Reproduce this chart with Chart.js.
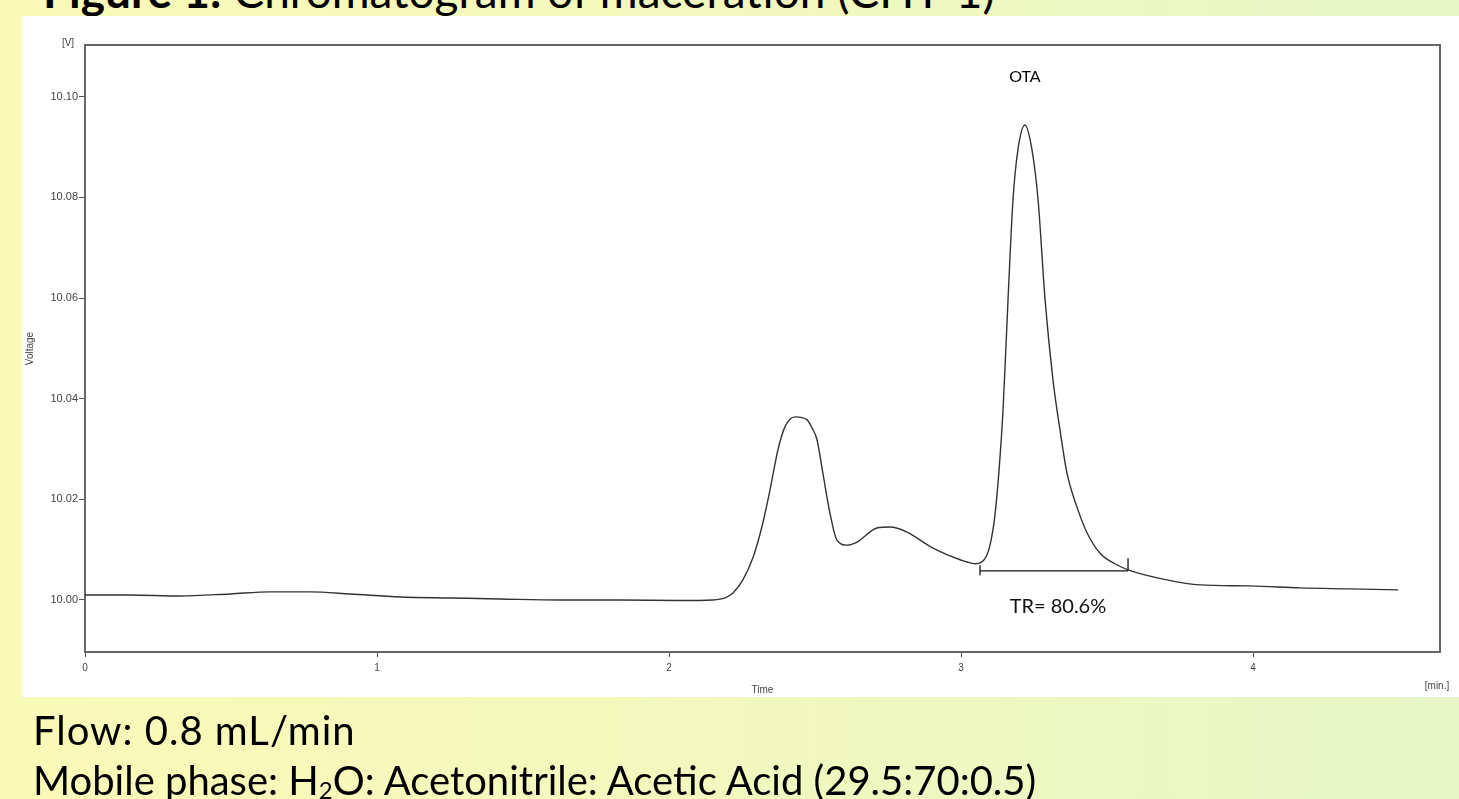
<!DOCTYPE html>
<html>
<head>
<meta charset="utf-8">
<script src="https://cdn.jsdelivr.net/npm/chart.js@4/dist/chart.umd.min.js"></script>
<style>
  html, body { margin:0; padding:0; }
  body { width:1459px; height:799px; overflow:hidden; position:relative;
         background: linear-gradient(90deg, #fafab8 0%, #f4f9bd 40%, #e7f6c7 100%); }
  #panel { position:absolute; left:22px; top:16px; width:1437px; height:681px; background:#ffffff; }
  #chart { position:absolute; left:0; top:0; }
  .big { position:absolute; font-family: Lato, "Open Sans", sans-serif; font-size:40px; color:#000; white-space:nowrap; line-height:1; }
  #title { left:43px; top:-32px; font-size:46px; }
  #flow { left:33px; top:710px; letter-spacing:1px; }
  #phase { left:33px; top:760px; }
  sub { font-size:0.6em; vertical-align:-0.15em; line-height:0; }
</style>
</head>
<body>
<div id="title" class="big"><b>Figure 1:</b> Chromatogram of maceration (CHT-1)</div>
<div id="panel"></div>
<canvas id="chart" width="1459" height="799"></canvas>
<div id="flow" class="big">Flow: 0.8 mL/min</div>
<div id="phase" class="big">Mobile phase: H<sub>2</sub>O: Acetonitrile: Acetic Acid (29.5:70:0.5)</div>
<script>
// ---- data ----
const times = [0.000,0.154,0.325,0.497,0.634,0.771,0.908,1.079,1.250,1.421,1.627,1.832,2.038,2.147,2.192,
  2.219,2.253,2.288,2.318,2.346,2.373,2.397,2.432,2.473,2.490,2.507,2.527,2.551,2.575,2.610,2.644,2.712,2.757,
  2.815,2.904,2.997,3.051,3.082,3.099,3.116,3.130,3.144,3.161,3.178,3.195,3.219,3.243,3.264,3.288,3.315,3.339,3.363,
  3.397,3.432,3.476,3.534,3.572,3.705,3.818,3.990,4.161,4.332,4.497];
const voltages = [10.0010,10.0010,10.0008,10.0012,10.0016,10.0016,10.0012,10.0006,10.0004,10.0002,10.0000,10.0000,9.9999,10.0000,10.0004,
  10.0014,10.0040,10.0085,10.0145,10.0219,10.0298,10.0344,10.0364,10.0358,10.0342,10.0318,10.0252,10.0173,10.0119,10.0109,10.0115,10.0143,10.0145,
  10.0135,10.0103,10.0080,10.0072,10.0082,10.0108,10.0167,10.0256,10.0378,10.0596,10.0795,10.0895,10.0944,10.0895,10.0795,10.0596,10.0437,10.0338,10.0252,
  10.0185,10.0133,10.0093,10.0070,10.0060,10.0040,10.0030,10.0028,10.0024,10.0022,10.0020];
const yTickValues = [10.00, 10.02, 10.04, 10.06, 10.08, 10.10];
const xTickValues = [0, 1, 2, 3, 4];
const trStart = 3.065, trEnd = 3.572, trLevel = 10.00577;
const trLeftTick = [10.0069, 10.0049];
const trRightTick = [10.0083, 10.0058];
const peakLabel = "OTA", peakLabelTime = 3.219, peakLabelVolt = 10.1040;
const trLabel = "TR= 80.6%", trLabelTime = 3.332, trLabelVolt = 9.9986;
const yRange = [9.98966, 10.1103];
const xRange = [0, 4.6404];

const pts = times.map((t, i) => ({x: t, y: voltages[i]}));
const lineStyle = {borderColor:'#333', borderWidth:1.4, pointRadius:0, fill:false, showLine:true, tension:0};

const extras = {
  id: 'extras',
  afterDraw(chart) {
    const {ctx, chartArea: a, scales: {x, y}} = chart;
    ctx.save();
    ctx.strokeStyle = '#666'; ctx.lineWidth = 2;
    ctx.beginPath();
    ctx.moveTo(a.left, a.top); ctx.lineTo(a.right, a.top); ctx.lineTo(a.right, a.bottom);
    ctx.stroke();
    ctx.fillStyle = '#444';
    ctx.font = '10px "Liberation Sans", Arial, sans-serif';
    ctx.textAlign = 'center'; ctx.textBaseline = 'middle';
    ctx.fillText('[V]', 68, 43);
    ctx.fillText('[min.]', 1437, 686);
    ctx.fillStyle = '#000';
    ctx.font = '16px Lato, "Liberation Sans", Arial, sans-serif';
    ctx.fillText(peakLabel, x.getPixelForValue(peakLabelTime), y.getPixelForValue(peakLabelVolt));
    ctx.font = '20px Lato, "Open Sans", sans-serif';
    ctx.fillStyle = '#111';
    ctx.fillText(trLabel, x.getPixelForValue(trLabelTime), y.getPixelForValue(trLabelVolt));
    ctx.restore();
  }
};

new Chart(document.getElementById('chart'), {
  type: 'scatter',
  data: {
    datasets: [
      Object.assign({data: pts, cubicInterpolationMode: 'monotone'}, lineStyle),
      Object.assign({}, lineStyle, {data: [{x: trStart, y: trLevel}, {x: trEnd, y: trLevel}], borderColor:'#111', borderWidth:1.3}),
      Object.assign({}, lineStyle, {data: [{x: trStart, y: trLeftTick[0]}, {x: trStart, y: trLeftTick[1]}], borderColor:'#111', borderWidth:1.3}),
      Object.assign({}, lineStyle, {data: [{x: trEnd, y: trRightTick[0]}, {x: trEnd, y: trRightTick[1]}], borderColor:'#111', borderWidth:1.3})
    ]
  },
  options: {
    responsive: false, animation: false, devicePixelRatio: 1,
    layout: { padding: { left: 0, top: 45, right: 19, bottom: 0 } },
    plugins: { legend: {display:false}, tooltip: {enabled:false}, title: {display:false} },
    scales: {
      x: {
        type: 'linear', min: xRange[0], max: xRange[1],
        afterFit(s) { s.height = 147; },
        afterBuildTicks(s) { s.ticks = xTickValues.map(v => ({value: v})); },
        grid: { drawOnChartArea:false, drawTicks:true, tickLength:5, color:'#555', tickWidth:1 },
        border: { display:true, color:'#666', width:2 },
        ticks: { color:'#444', font:{family:'"Liberation Sans", Arial, sans-serif', size:10}, padding:5, maxRotation:0,
                 callback: v => String(v) },
        title: { display:true, text:'Time', color:'#444', font:{family:'"Liberation Sans", Arial, sans-serif', size:10},
                 padding:{top:0, bottom:103} }
      },
      y: {
        type: 'linear', min: yRange[0], max: yRange[1],
        afterFit(s) { s.width = 85; },
        afterBuildTicks(s) { s.ticks = yTickValues.map(v => ({value: v})); },
        grid: { drawOnChartArea:false, drawTicks:true, tickLength:6, color:'#555', tickWidth:1 },
        border: { display:true, color:'#666', width:2 },
        ticks: { color:'#444', font:{family:'"Liberation Sans", Arial, sans-serif', size:11}, padding:1,
                 callback: v => Number(v).toFixed(2) },
        title: { display:true, text:'Voltage', color:'#444', font:{family:'"Liberation Sans", Arial, sans-serif', size:10},
                 padding:{top:24, bottom:0} }
      }
    }
  },
  plugins: [extras]
});
</script>
</body>
</html>
